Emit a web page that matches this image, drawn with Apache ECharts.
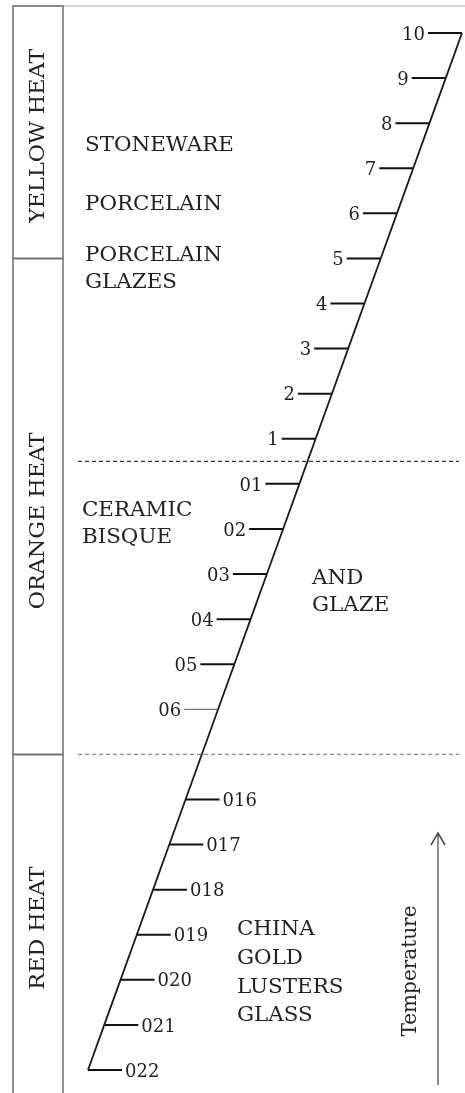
<!DOCTYPE html>
<html><head><meta charset="utf-8">
<script src="https://cdn.jsdelivr.net/npm/echarts@6/dist/echarts.min.js"></script>
<style>html,body{margin:0;padding:0;background:#fff}#c{width:465px;height:1093px}</style>
</head><body><div id="c"></div>
<script>
// ---- data ----
// pyrometric cone numbers, lowest to highest temperature
const cones = ['022','021','020','019','018','017','016','06','05','04','03','02','01','1','2','3','4','5','6','7','8','9','10'];
// position of each cone along the temperature scale (07–015 omitted, leaving a gap)
const conePos = [0,1,2,3,4,5,6,8,9,10,11,12,13,14,15,16,17,18,19,20,21,22,23];
// heat colour zones, bottom to top, and their boundaries on the scale
const heatZones = ['RED HEAT','ORANGE HEAT','YELLOW HEAT'];
const zoneBounds = [7, 18];
const heatLabelPos = [3.15, 12.18, 20.72];
// dashed boundary lines on the scale
const dashedLines = [13.5, 7];
// ware groups and where they sit on the scale
const wareGroups = [['STONEWARE'],['PORCELAIN'],['PORCELAIN','GLAZES'],['CERAMIC','BISQUE'],['AND','GLAZE'],['CHINA','GOLD','LUSTERS','GLASS']];
const warePos = [20.5, 19.2, 17.75, 12.1, 10.6, 2.15];
const axisTitle = 'Temperature';

// ---- layout ----
const W = 465, H = 1093;
const X0 = 88, X1 = 462, Y0 = 1070, Y1 = 33;   // pixel ends of the cone scale
const wareX = [85, 85, 85, 82, 312, 237];
const wareLineH = [27, 27, 27, 26.5, 27, 28.6];
const COL_L = 13, COL_R = 63, TOP = 6;
const FONT = 'DejaVu Serif';
const first = conePos[0], last = conePos[conePos.length - 1];
const ux = (X1 - X0) / (last - first), uy = (Y0 - Y1) / (last - first);
const xMin = first - X0 / ux, xMax = last + (W - X1) / ux;
const yMin = first - (H - Y0) / uy, yMax = last + Y1 / uy;

const chart = echarts.init(document.getElementById('c'), null, {renderer: 'canvas'});
chart.setOption({
  animation: false,
  backgroundColor: '#fff',
  grid: {left: 0, right: 0, top: 0, bottom: 0},
  xAxis: {type: 'value', min: xMin, max: xMax, show: false},
  yAxis: {type: 'value', min: yMin, max: yMax, show: false},
  series: [
    { // heat zone column
      type: 'custom', silent: true,
      data: heatZones.map((z, i) => [i]),
      renderItem: function (params, api) {
        const i = api.value(0);
        const yb = i === 0 ? H + 5 : api.coord([0, zoneBounds[i - 1]])[1];
        const yt = i === heatZones.length - 1 ? TOP : api.coord([0, zoneBounds[i]])[1];
        const yc = api.coord([0, heatLabelPos[i]])[1];
        return {type: 'group', children: [
          {type: 'rect', shape: {x: COL_L, y: yt, width: COL_R - COL_L, height: yb - yt},
           style: {fill: null, stroke: '#6e6e6e', lineWidth: 1.5}},
          {type: 'text', x: (COL_L + COL_R) / 2 + 1, y: yc, rotation: Math.PI / 2, scaleX: 1.06,
           style: {text: heatZones[i], x: 0, y: 0, align: 'center', verticalAlign: 'middle',
                   font: '21px "' + FONT + '"', fill: '#222'}}
        ]};
      }
    },
    { // dashed boundaries
      type: 'custom', silent: true,
      data: dashedLines.map((v, i) => [v, i]),
      renderItem: function (params, api) {
        const y = api.coord([0, api.value(0)])[1];
        const i = api.value(1);
        return {type: 'line', shape: {x1: 78, y1: y, x2: 459, y2: y},
          style: {stroke: i === 0 ? '#333' : '#8a8a8a', lineWidth: 1.3, lineDash: [4, 3]}};
      }
    },
    { // cone scale line
      type: 'line', silent: true, showSymbol: false,
      data: conePos.map(p => [p, p]),
      lineStyle: {color: '#1a1a1a', width: 1.8}
    },
    { // cone ticks and labels
      type: 'custom', silent: true,
      data: conePos.map((p, i) => [p, p, i]),
      renderItem: function (params, api) {
        const p = api.value(0), i = api.value(2);
        const pt = api.coord([p, p]);
        const dir = p > zoneBounds[0] ? -1 : 1;
        const len = 34;
        const x2 = pt[0] + dir * len;
        const thin = cones[i] === '06';
        return {type: 'group', children: [
          {type: 'line', shape: {x1: pt[0], y1: pt[1], x2: x2, y2: pt[1]},
           style: {stroke: thin ? '#555' : '#111', lineWidth: thin ? 1 : 2}},
          {type: 'text', style: {text: cones[i], x: x2 + dir * 3, y: pt[1] + 2,
            align: dir < 0 ? 'right' : 'left', verticalAlign: 'middle',
            font: '18px "' + FONT + '"', fill: '#1e1e1e'}}
        ]};
      }
    },
    { // ware labels
      type: 'custom', silent: true,
      data: wareGroups.map((g, i) => [warePos[i], i]),
      renderItem: function (params, api) {
        const i = api.value(1);
        const y = api.coord([0, api.value(0)])[1];
        return {type: 'text', x: wareX[i], y: y, scaleX: 1.07,
          style: {text: wareGroups[i].join('\n'), x: 0, y: 0,
          align: 'left', verticalAlign: 'middle', lineHeight: wareLineH[i],
          font: '20px "' + FONT + '"', fill: '#222'}};
      }
    }
  ],
  graphic: [
    {type: 'line', shape: {x1: COL_L, y1: TOP, x2: W, y2: TOP}, style: {stroke: '#aaa', lineWidth: 1}},
    {type: 'line', shape: {x1: 438, y1: 1085, x2: 438, y2: 833}, style: {stroke: '#666', lineWidth: 1.5}},
    {type: 'polyline', shape: {points: [[431, 845], [438, 833], [445, 845]]}, style: {stroke: '#444', lineWidth: 1.5, fill: null}},
    {type: 'text', x: 411, y: 971, rotation: Math.PI / 2,
     style: {text: axisTitle, x: 0, y: 0, align: 'center', verticalAlign: 'middle', font: '20px "' + FONT + '"', fill: '#222'}}
  ]
});
</script></body></html>
